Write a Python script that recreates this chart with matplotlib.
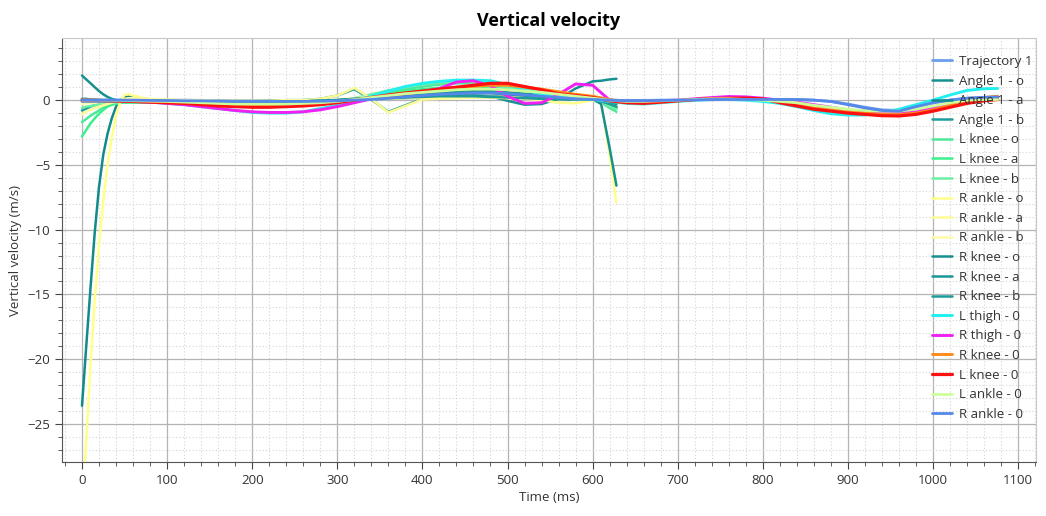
import matplotlib
matplotlib.use('Agg')
import matplotlib.pyplot as plt
from matplotlib.ticker import MultipleLocator

plt.rcParams['font.family'] = ['Open Sans', 'DejaVu Sans']

# time grids (ms)
t_short = [0, 5, 10, 15, 20, 25, 30, 35, 40, 45, 50, 55, 60,
           80, 100, 120, 140, 160, 180, 200, 220, 240, 260, 280, 300,
           320, 340, 360, 380, 400, 420, 440, 460, 480, 500, 520, 540, 560, 580, 600,
           610, 620, 628]
t_long = [0, 20, 40, 60, 80, 100, 120, 140, 160, 180, 200,
          220, 240, 260, 280, 300, 320, 340, 360, 380, 400, 420,
          440, 460, 480, 500, 520, 540, 560, 580, 600, 620, 640,
          660, 680, 700, 720, 740, 760, 780, 800, 820, 840, 860,
          880, 900, 920, 940, 960, 980, 1000, 1020, 1040, 1060, 1076]

# short series (vertical velocity, m/s)
angle1_o = [1.9, 1.6, 1.3, 1.0, 0.7, 0.45, 0.25, 0.1, 0.0, -0.05, -0.1, -0.1, -0.1,
            -0.1, -0.1, -0.15, -0.2, -0.25, -0.3, -0.3, -0.3, -0.25, -0.2, -0.15, -0.1,
            0.0, 0.1, 0.2, 0.25, 0.3, 0.35, 0.35, 0.35, 0.3, -0.05, -0.35, -0.3, 0.1, 0.9, 1.45,
            1.5, 1.6, 1.65]
angle1_a = [-23.6, -19.0, -14.5, -10.2, -6.7, -4.2, -2.6, -1.4, -0.5, 0.0, 0.25, 0.3, 0.25,
            0.05, -0.05, -0.1, -0.15, -0.2, -0.2, -0.2, -0.2, -0.15, -0.1, -0.05, 0.0,
            0.05, 0.1, 0.15, 0.2, 0.25, 0.3, 0.35, 0.35, 0.3, 0.25, 0.2, 0.15, 0.1, 0.05, 0.0,
            -0.2, -0.4, -0.6]
angle1_b = [-0.8, -0.65, -0.5, -0.4, -0.3, -0.25, -0.2, -0.15, -0.1, -0.1, -0.1, -0.1, -0.1,
            -0.1, -0.1, -0.1, -0.1, -0.1, -0.1, -0.1, -0.05, 0.0, 0.0, 0.1, 0.35,
            0.85, 0.05, -0.9, -0.4, 0.1, 0.15, 0.2, 0.2, 0.2, 0.2, 0.2, 0.15, 0.1, 0.05, 0.0,
            -0.1, -0.2, -0.3]
lknee_o = [-1.7, -1.45, -1.2, -1.0, -0.8, -0.6, -0.45, -0.35, -0.25, -0.2, -0.2, -0.2, -0.2,
           -0.2, -0.2, -0.25, -0.3, -0.35, -0.4, -0.4, -0.4, -0.35, -0.3, -0.2, -0.1,
           0.1, 0.35, 0.6, 0.85, 1.05, 1.2, 1.3, 1.3, 1.25, 1.1, 0.9, 0.7, 0.5, 0.35, 0.1,
           -0.2, -0.6, -0.9]
lknee_a = [-2.8, -2.3, -1.8, -1.4, -1.05, -0.75, -0.5, -0.35, -0.25, -0.2, -0.15, -0.15, -0.15,
           -0.15, -0.15, -0.2, -0.25, -0.3, -0.3, -0.3, -0.3, -0.25, -0.2, -0.15, -0.05,
           0.1, 0.3, 0.5, 0.7, 0.85, 0.95, 1.0, 1.0, 0.95, 0.85, 0.7, 0.55, 0.4, 0.3, 0.15,
           -0.1, -0.3, -0.5]
lknee_b = [-0.6, -0.5, -0.45, -0.4, -0.35, -0.3, -0.25, -0.2, -0.2, -0.15, -0.15, -0.15, -0.15,
           -0.15, -0.2, -0.25, -0.3, -0.4, -0.45, -0.5, -0.5, -0.45, -0.35, -0.25, -0.1,
           0.15, 0.45, 0.75, 1.0, 1.2, 1.35, 1.4, 1.35, 1.2, 1.0, 0.8, 0.6, 0.45, 0.3, 0.1,
           -0.15, -0.45, -0.7]
rankle_o = [-32.0, -26.3, -20.5, -15.5, -11.2, -7.8, -5.0, -2.9, -1.2, -0.1, 0.4, 0.45, 0.35,
            0.05, 0.0, -0.05, -0.1, -0.1, -0.15, -0.15, -0.15, -0.1, -0.1, -0.05, 0.0,
            0.05, 0.1, 0.1, 0.15, 0.15, 0.2, 0.2, 0.2, 0.2, 0.15, 0.1, 0.0, -0.2, -0.25, 0.0,
            -0.1, -4.3, -7.9]
rankle_a = [-1.1, -0.9, -0.75, -0.6, -0.5, -0.4, -0.3, -0.2, -0.1, 0.0, 0.1, 0.15, 0.15,
            0.1, 0.05, 0.0, 0.0, -0.05, -0.05, -0.05, -0.05, 0.0, 0.0, 0.1, 0.35,
            0.95, 0.1, -0.95, -0.45, 0.05, 0.1, 0.15, 0.2, 0.25, 0.25, 0.3, 0.3, 0.2, 0.05, -0.05,
            -0.1, -0.2, -0.3]
rankle_b = [-0.3, -0.25, -0.2, -0.2, -0.15, -0.15, -0.1, -0.1, -0.05, 0.0, 0.05, 0.1, 0.1,
            0.05, 0.0, -0.05, -0.1, -0.15, -0.2, -0.2, -0.2, -0.15, -0.1, -0.05, 0.05,
            0.15, 0.25, 0.35, 0.5, 0.6, 0.7, 0.8, 0.85, 0.8, 0.7, 0.6, 0.5, 0.4, 0.25, 0.1,
            0.0, -0.1, -0.2]
rknee_o = [0.1, 0.1, 0.05, 0.05, 0.0, 0.0, 0.0, -0.05, -0.05, -0.05, -0.05, -0.05, -0.05,
           -0.05, -0.05, -0.1, -0.1, -0.15, -0.15, -0.15, -0.15, -0.1, -0.1, -0.05, 0.0,
           0.1, 0.2, 0.3, 0.4, 0.5, 0.55, 0.6, 0.6, 0.55, 0.45, 0.35, 0.25, 0.2, 0.15, 0.1,
           -0.3, -3.7, -6.6]
rknee_a = [0.0, 0.0, 0.0, -0.05, -0.05, -0.05, -0.05, -0.05, -0.05, -0.05, -0.05, -0.05, -0.05,
           -0.05, -0.1, -0.1, -0.15, -0.2, -0.2, -0.2, -0.2, -0.15, -0.1, -0.05, 0.0,
           0.1, 0.2, 0.3, 0.45, 0.55, 0.65, 0.7, 0.75, 0.7, 0.6, 0.5, 0.4, 0.3, 0.2, 0.1,
           0.0, -0.15, -0.3]
rknee_b = [-0.1, -0.1, -0.1, -0.1, -0.1, -0.1, -0.1, -0.1, -0.1, -0.1, -0.1, -0.1, -0.1,
           -0.1, -0.1, -0.15, -0.15, -0.2, -0.2, -0.2, -0.2, -0.15, -0.1, -0.05, 0.0,
           0.05, 0.1, 0.15, 0.2, 0.25, 0.3, 0.3, 0.3, 0.25, 0.2, 0.15, 0.1, 0.1, 0.05, 0.05,
           -0.1, -0.3, -0.5]

# long series
trajectory1 = [0.0, 0.0, 0.0, 0.0, 0.0, 0.0, 0.0, -0.02, -0.02, -0.03, -0.03,
               -0.03, -0.03, -0.02, 0.0, 0.0, 0.02, 0.05, 0.1, 0.15, 0.2, 0.25,
               0.3, 0.3, 0.3, 0.25, 0.2, 0.15, 0.1, 0.05, 0.0, 0.0, -0.02,
               -0.02, 0.0, 0.0, 0.02, 0.03, 0.05, 0.05, 0.05, 0.05, 0.05, 0.0,
               -0.1, -0.3, -0.55, -0.75, -0.8, -0.5, -0.2, 0.0, 0.15, 0.2, 0.25]
lthigh0 = [-0.05, -0.05, -0.05, -0.1, -0.15, -0.25, -0.35, -0.5, -0.65, -0.8, -0.95,
           -1.0, -1.0, -0.9, -0.65, -0.4, -0.05, 0.3, 0.7, 1.05, 1.3, 1.45,
           1.55, 1.55, 1.5, 1.2, 0.8, 0.45, 0.25, 0.15, 0.05, -0.1, -0.25,
           -0.3, -0.2, -0.1, 0.0, 0.05, 0.05, 0.0, -0.1, -0.25, -0.5, -0.8,
           -1.05, -1.15, -1.15, -0.95, -0.7, -0.35, 0.0, 0.4, 0.75, 0.88, 0.9]
rthigh0 = [-0.05, -0.05, -0.05, -0.1, -0.15, -0.25, -0.35, -0.5, -0.65, -0.8, -0.9,
           -0.95, -0.95, -0.9, -0.75, -0.5, -0.2, 0.1, 0.35, 0.5, 0.65, 0.9,
           1.4, 1.5, 1.1, 0.3, -0.25, -0.2, 0.45, 1.25, 1.15, 0.0, -0.1,
           -0.1, -0.05, 0.0, 0.1, 0.2, 0.28, 0.25, 0.15, 0.0, -0.15, -0.35,
           -0.55, -0.75, -0.9, -1.0, -1.0, -0.85, -0.55, -0.25, 0.0, 0.05, 0.05]
rknee0 = [0.0, -0.02, -0.05, -0.08, -0.12, -0.18, -0.22, -0.3, -0.38, -0.42, -0.45,
          -0.45, -0.42, -0.38, -0.3, -0.15, 0.0, 0.2, 0.35, 0.5, 0.65, 0.8,
          0.9, 1.05, 1.15, 1.15, 1.0, 0.85, 0.65, 0.45, 0.3, 0.05, -0.15,
          -0.2, -0.15, -0.05, 0.05, 0.1, 0.12, 0.12, 0.08, -0.1, -0.35, -0.6,
          -0.75, -0.9, -1.0, -1.1, -1.12, -1.0, -0.75, -0.4, -0.05, 0.2, 0.3]
lknee0 = [0.0, -0.02, -0.05, -0.1, -0.15, -0.2, -0.25, -0.35, -0.45, -0.5, -0.55,
          -0.55, -0.5, -0.45, -0.35, -0.2, 0.0, 0.2, 0.4, 0.55, 0.7, 0.85,
          1.0, 1.15, 1.3, 1.3, 1.05, 0.8, 0.5, 0.35, 0.2, -0.05, -0.2,
          -0.25, -0.15, -0.05, 0.05, 0.1, 0.15, 0.15, 0.1, -0.2, -0.45, -0.7,
          -0.85, -1.0, -1.1, -1.2, -1.22, -1.1, -0.85, -0.55, -0.25, -0.05, 0.05]
lankle0 = [0.0, 0.0, -0.02, -0.05, -0.08, -0.1, -0.15, -0.2, -0.25, -0.3, -0.3,
           -0.3, -0.3, -0.25, -0.2, -0.1, 0.05, 0.2, 0.35, 0.5, 0.6, 0.7,
           0.8, 0.85, 0.85, 0.8, 0.7, 0.6, 0.45, 0.3, 0.15, 0.0, -0.1,
           -0.1, -0.05, 0.0, 0.05, 0.1, 0.1, 0.05, 0.0, -0.1, -0.2, -0.4,
           -0.55, -0.7, -0.8, -0.85, -0.85, -0.7, -0.45, -0.2, 0.0, 0.05, 0.05]
rankle0 = [0.0, 0.0, 0.0, 0.0, -0.02, -0.03, -0.05, -0.05, -0.08, -0.1, -0.1,
           -0.1, -0.1, -0.1, -0.08, -0.05, 0.0, 0.05, 0.15, 0.25, 0.35, 0.45,
           0.5, 0.55, 0.55, 0.5, 0.4, 0.3, 0.2, 0.1, 0.05, 0.0, -0.05,
           -0.05, -0.02, 0.0, 0.02, 0.05, 0.05, 0.05, 0.05, 0.05, 0.05, 0.0,
           -0.1, -0.35, -0.6, -0.8, -0.85, -0.5, -0.2, 0.0, 0.15, 0.22, 0.25]

series = [
    ('Trajectory 1', t_long, trajectory1, '#6d9eeb', 2.0),
    ('Angle 1 - o', t_short, angle1_o, '#17918f', 1.8),
    ('Angle 1 - a', t_short, angle1_a, '#138a8a', 1.8),
    ('Angle 1 - b', t_short, angle1_b, '#1f9c9c', 1.8),
    ('L knee - o', t_short, lknee_o, '#4ee89a', 1.8),
    ('L knee - a', t_short, lknee_a, '#3cf08c', 1.8),
    ('L knee - b', t_short, lknee_b, '#6cf0a4', 1.8),
    ('R ankle - o', t_short, rankle_o, '#ffff8c', 1.8),
    ('R ankle - a', t_short, rankle_a, '#fdfb96', 1.8),
    ('R ankle - b', t_short, rankle_b, '#fffaa8', 1.8),
    ('R knee - o', t_short, rknee_o, '#16908f', 1.8),
    ('R knee - a', t_short, rknee_a, '#1a9696', 1.8),
    ('R knee - b', t_short, rknee_b, '#1d9a9a', 1.8),
    ('L thigh - 0', t_long, lthigh0, '#22f0f0', 2.1),
    ('R thigh - 0', t_long, rthigh0, '#f020f0', 2.1),
    ('R knee - 0', t_long, rknee0, '#ff8c1a', 2.1),
    ('L knee - 0', t_long, lknee0, '#ff1010', 2.3),
    ('L ankle - 0', t_long, lankle0, '#ccff99', 2.0),
    ('R ankle - 0', t_long, rankle0, '#5588e8', 2.0),
]

fig = plt.figure(figsize=(10.46, 5.16), dpi=100)
ax = fig.add_axes([62/1046, 1-462/516, (1036-62)/1046, (462-38)/516])

for name, t, v, c, lw in series:
    ax.plot(t, v, color=c, lw=lw, label=name, solid_capstyle='round', solid_joinstyle='round')

ax.set_xlim(-23.5, 1121)
ax.set_ylim(-27.95, 4.8)
ax.xaxis.set_major_locator(MultipleLocator(100))
ax.xaxis.set_minor_locator(MultipleLocator(20))
ax.yaxis.set_major_locator(MultipleLocator(5))
ax.yaxis.set_minor_locator(MultipleLocator(1))
ax.grid(which='major', color='#b4b4b4', lw=0.9)
ax.grid(which='minor', color='#dadada', lw=0.8, ls=(0, (1.2, 1.8)))
ax.set_axisbelow(True)

ax.tick_params(which='both', colors='#444444', labelcolor='#333333', labelsize=9.5, direction='out')
ax.tick_params(which='major', length=5)
ax.tick_params(which='minor', length=3)
for s in ['top', 'right']:
    ax.spines[s].set_color('#c8c8c8')
for s in ['left', 'bottom']:
    ax.spines[s].set_color('#555555')

ax.set_xlabel('Time (ms)', fontsize=9.5, color='#333333', labelpad=3)
ax.set_ylabel('Vertical velocity (m/s)', fontsize=9.5, color='#333333', labelpad=4)
ax.set_title('Vertical velocity', fontsize=13, fontweight='bold', pad=9)

leg = ax.legend(loc='upper left', bbox_to_anchor=(932/1046, 1-55/516), bbox_transform=fig.transFigure,
                frameon=False, fontsize=9.5, handlelength=1.5, handletextpad=0.55,
                labelspacing=0.5, borderpad=0, borderaxespad=0)
for txt in leg.get_texts():
    txt.set_color('#333333')

fig.savefig('out.png', dpi=100)
